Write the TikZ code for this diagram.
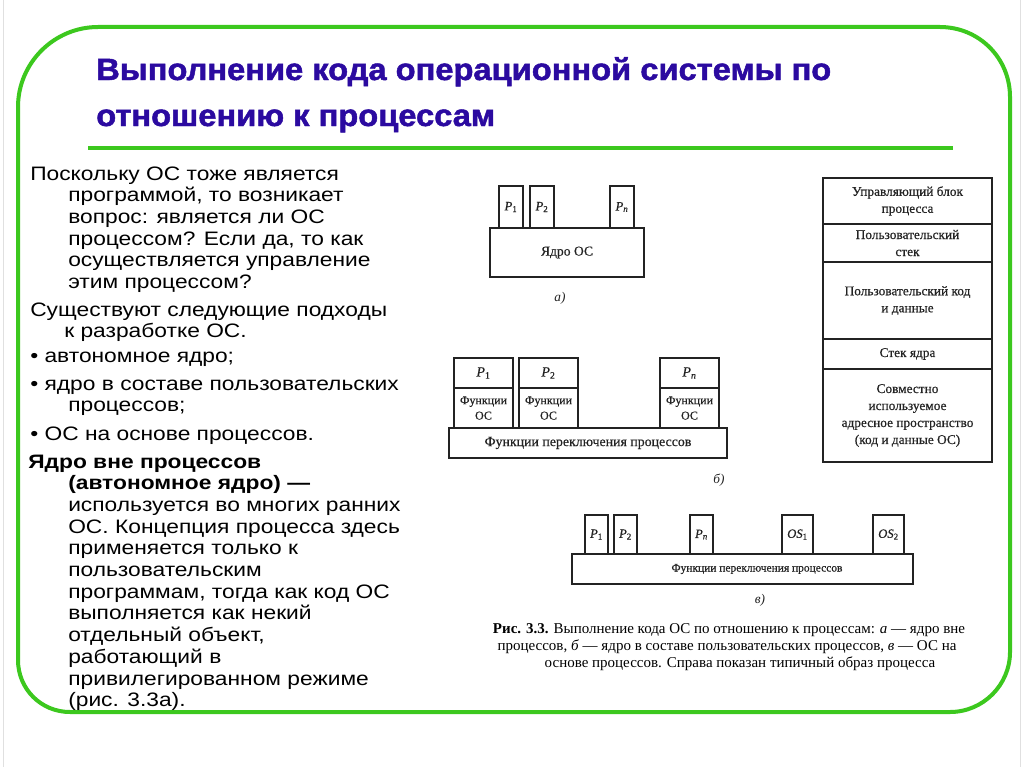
\documentclass[tikz,border=0pt]{standalone}
\usepackage{fontspec}
\setmainfont{Liberation Sans}
\newfontfamily\bodyfont[FakeStretch=1.17]{Liberation Sans}
\newfontfamily\titlefont[FakeStretch=1.065,FakeBold=1.6]{Liberation Sans Bold}
\newfontfamily\scanfont[FakeBold=0.5]{Liberation Serif}
\newfontfamily\capfont{Liberation Serif}
\definecolor{frameg}{RGB}{60,200,30}
\definecolor{titleb}{RGB}{43,10,160}
\definecolor{ink}{RGB}{35,35,35}
\newcommand\psub[1]{\textit{P}\textsubscript{#1}}
\newcommand\rbox[7][]{\node[box,#1,minimum width={(#5-#3)*0.75pt},minimum height={(#6-#4)*0.75pt}] (#2) at ({(#3+#5)/2},{(#4+#6)/2}) {#7};}
\tikzset{
  frame/.style={draw=frameg,line width=3pt},
  rule/.style={draw=frameg,line width=3pt},
  titletext/.style={anchor=base west,inner sep=0,text=titleb,font=\titlefont\fontsize{23}{27}\selectfont},
  body/.style={anchor=base west,inner sep=0,text=black,font=\bodyfont\fontsize{14.6}{17}\selectfont},
  box/.style={draw=ink,line width=1.1pt,inner sep=0,outer sep=0,align=center,text=ink,font=\scanfont\fontsize{10}{12.75}\selectfont},
  plabel/.style={font=\scanfont\fontsize{9.5}{11}\selectfont},
  sublabel/.style={inner sep=0,text=ink,font=\capfont\itshape\fontsize{10}{12}\selectfont},
  caption/.style={inner sep=0,anchor=base,text=black,font=\capfont\fontsize{11.25}{13}\selectfont},
  edge/.style={draw=black!12,line width=0.6pt}
}
\begin{document}
\begin{tikzpicture}[x=0.75pt,y=-0.75pt]
\useasboundingbox (0,0) rectangle (1024,767);
\fill[white] (0,0) rectangle (1024,767);
\draw[edge] (3,0) -- (3,767);
\draw[edge] (1020,0) -- (1020,767);
% green frame
\draw[frame] (70,712) .. controls (41,712) and (18,689) .. (18,660) -- (18,107)
  .. controls (18,63) and (54,27) .. (98,27) -- (940,27)
  .. controls (979,27) and (1010,58) .. (1010,97) -- (1010,652)
  .. controls (1010,685) and (983,712) .. (950,712) -- cycle;
% title
\node[titletext] (t1) at (96,80) {Выполнение кода операционной системы по};
\node[titletext] (t2) at (96,126) {отношению к процессам};
\draw[rule] (88,148) -- (953,148);
% left text
\foreach \x/\y/\t [count=\i] in {
 30/180/{Поскольку ОС тоже является},
 68/201.7/{программой, то возникает},
 68/223.4/{вопрос: является ли ОС},
 68/245.1/{процессом? Если да, то как},
 68/266.8/{осуществляется управление},
 68/288.5/{этим процессом?},
 30/316/{Существуют следующие подходы},
 64/337.7/{к разработке ОС.},
 30/362/{• автономное ядро;},
 30/390/{• ядро в составе пользовательских},
 68/411.7/{процессов;},
 30/440/{• ОС на основе процессов.},
 28/468/{\bfseries Ядро вне процессов},
 68/489.7/{\bfseries (автономное ядро) —},
 68/511.4/{используется во многих ранних},
 68/533.1/{ОС. Концепция процесса здесь},
 68/554.8/{применяется только к},
 68/576.5/{пользовательским},
 68/598.2/{программам, тогда как код ОС},
 68/619.9/{выполняется как некий},
 68/641.6/{отдельный объект,},
 68/663.3/{работающий в},
 68/685/{привилегированном режиме},
 68/706.7/{(рис. 3.3а).}}
 {\node[body] (L\i) at (\x,\y) {\t};}
% diagram a
\rbox[font=\scanfont\fontsize{10.2}{12}\selectfont]{kern}{490}{228}{644}{277}{Ядро ОС}
\rbox[plabel]{a1}{499}{186}{523}{228}{\psub{1}}
\rbox[plabel]{a2}{530}{186}{554}{228}{\psub{2}}
\rbox[plabel]{an}{610}{186}{634}{228}{\psub{\textit{n}}}
\node[sublabel] (la) at (560,298) {а)};
% diagram b
\rbox[font=\scanfont\fontsize{10.4}{13}\selectfont]{bbase}{449}{428}{727}{458}{Функции переключения процессов}
\rbox[font=\scanfont\fontsize{10.5}{12}\selectfont]{b1}{454}{358}{513}{388}{\psub{1}}
\rbox[font=\scanfont\fontsize{9}{11.5}\selectfont]{bf1}{454}{388}{513}{428}{Функции\\ОС}
\rbox[font=\scanfont\fontsize{10.5}{12}\selectfont]{b2}{519}{358}{578}{388}{\psub{2}}
\rbox[font=\scanfont\fontsize{9}{11.5}\selectfont]{bf2}{519}{388}{578}{428}{Функции\\ОС}
\rbox[font=\scanfont\fontsize{10.5}{12}\selectfont]{bn}{660}{358}{719}{388}{\psub{\textit{n}}}
\rbox[font=\scanfont\fontsize{9}{11.5}\selectfont]{bfn}{660}{388}{719}{428}{Функции\\ОС}
\node[sublabel] (lb) at (719,480) {б)};
% right column
\rbox{r1}{823}{178}{992}{224}{Управляющий блок\\процесса}
\rbox{r2}{823}{224}{992}{262}{Пользовательский\\стек}
\rbox{r3}{823}{262}{992}{339}{Пользовательский код\\и данные}
\rbox{r4}{823}{339}{992}{369}{Стек ядра}
\rbox{r5}{823}{369}{992}{462}{Совместно\\используемое\\адресное пространство\\(код и данные ОС)}
% diagram c
\rbox{cbase}{572}{554}{913}{584}{}
\node[inner sep=0,text=ink,font=\scanfont\fontsize{8.6}{11}\selectfont] (ctext) at (757,569) {Функции переключения процессов};
\rbox[plabel]{c1}{585}{515}{608}{554}{\psub{1}}
\rbox[plabel]{c2}{614}{515}{637}{554}{\psub{2}}
\rbox[plabel]{cn}{690}{515}{713}{554}{\psub{\textit{n}}}
\rbox[plabel]{cos1}{782}{515}{813}{554}{\textit{OS}\textsubscript{1}}
\rbox[plabel]{cos2}{873}{515}{904}{554}{\textit{OS}\textsubscript{2}}
\node[sublabel] (lc) at (760,600) {в)};
% caption
\node[caption] (cap1) at (729,633) {\textbf{Рис. 3.3.} Выполнение кода ОС по отношению к процессам: \textit{а} — ядро вне};
\node[caption] (cap2) at (727,650) {процессов, \textit{б} — ядро в составе пользовательских процессов, \textit{в} — ОС на};
\node[caption] (cap3) at (740,667) {основе процессов. Справа показан типичный образ процесса};
\end{tikzpicture}
\end{document}
